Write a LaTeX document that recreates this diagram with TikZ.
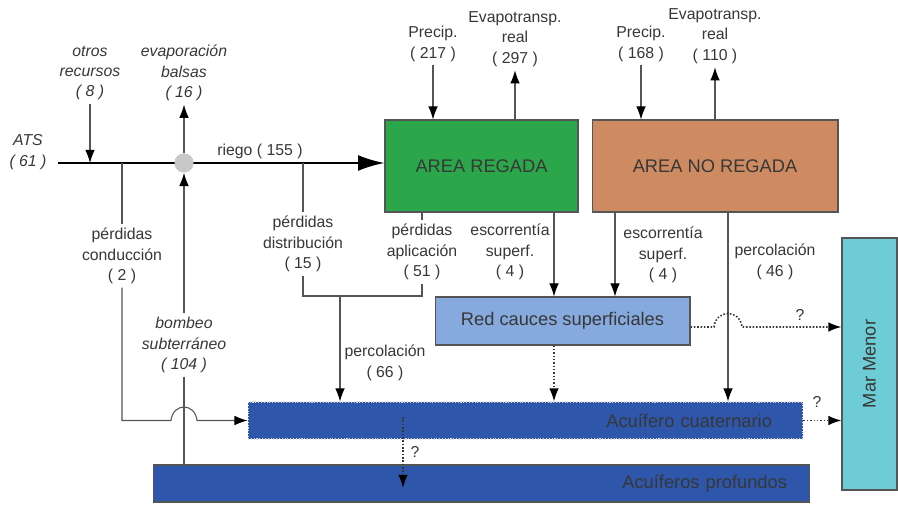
\documentclass[tikz,border=0pt]{standalone}
\usepackage{fontspec}
\setmainfont{Liberation Sans}
\usepackage{tikz}
\usetikzlibrary{arrows.meta,positioning,calc}
\definecolor{MsGreen}{RGB}{44,166,74}
\definecolor{MsOrange}{RGB}{206,139,98}
\definecolor{MsCauces}{RGB}{134,170,222}
\definecolor{MsAquifer}{RGB}{46,86,170}
\definecolor{MsCyan}{RGB}{110,204,214}
\definecolor{MsCircle}{RGB}{200,200,200}
\definecolor{MsLine}{RGB}{85,85,85}
\definecolor{MsText}{RGB}{55,55,55}
\tikzset{
  ms/box/.style={
    draw=MsLine,
    line width=0.6pt,
    text=MsText,
    inner sep=0pt,
    font=\fontsize{10.4}{12}\selectfont
  },
  ms/label/.style={font=\fontsize{9}{11.6}\selectfont, text=MsText, align=center, inner sep=2pt},
  ms/italic/.style={ms/label, font=\fontsize{9}{11.6}\selectfont\itshape},
  ms/line/.style={draw=MsLine, line width=0.6pt},
  ms/arrow/.style={-{Latex[length=7.5pt,width=5.5pt,color=black]}, draw=MsLine, line width=0.6pt},
  ms/main/.style={-{Latex[length=15pt,width=9pt]}, draw=black, line width=1.2pt},
  ms/dotarrow/.style={-{Latex[length=7.5pt,width=5.5pt,color=black]}, draw=MsText, densely dotted, line width=0.9pt}
}
\begin{document}
\begin{tikzpicture}[x=0.02cm,y=-0.02cm]
  \useasboundingbox (0,0) rectangle (898,506);
  % boxes
  \node[ms/box,fill=MsGreen,minimum width=3.86cm,minimum height=1.84cm] (regada) at (481.5,166) {AREA REGADA};
  \node[ms/box,fill=MsOrange,minimum width=4.92cm,minimum height=1.84cm] (noregada) at (715,166) {AREA NO REGADA};
  \node[ms/box,fill=MsCauces,minimum width=5.1cm,minimum height=0.96cm] (red) at (562.5,321) {Red cauces superficiales};
  \node[ms/box,fill=MsAquifer,draw=white!70!gray,densely dotted,minimum height=0.74cm,
        inner xsep=0.62cm,text width=9.86cm,align=right] (cuat) at (525.5,420.5) {Acuífero cuaternario};
  \node[ms/box,fill=MsAquifer,minimum height=0.74cm,
        inner xsep=0.46cm,text width=12.22cm,align=right] (prof) at (481.5,483.5) {Acuíferos profundos};
  \node[ms/box,fill=MsCyan,rotate=90,minimum width=5.04cm,minimum height=1.1cm] (mar) at (869.5,364) {Mar Menor};
  \node[circle,fill=MsCircle,minimum size=0.38cm,inner sep=0pt] (balsa) at (184,163) {};

  % labels
  \node[ms/italic] (ats) at (28,152) {ATS\\( 61 )};
  \node[ms/italic] (otros) at (90,73) {otros\\recursos\\( 8 )};
  \node[ms/italic] (evap) at (184,73) {evaporación\\balsas\\( 16 )};
  \node[ms/label] (riego) at (260,151) {riego ( 155 )};
  \node[ms/label] (cond) at (122,256) {pérdidas\\conducción\\( 2 )};
  \node[ms/italic] (bombeo) at (184,345) {bombeo\\subterráneo\\( 104 )};
  \node[ms/label] (distr) at (303,244) {pérdidas\\distribución\\( 15 )};
  \node[ms/label] (apl) at (422,252) {pérdidas\\aplicación\\( 51 )};
  \node[ms/label] (perc1) at (385,363) {percolación\\( 66 )};
  \node[ms/label] (esc1) at (510,252) {escorrentía\\superf.\\( 4 )};
  \node[ms/label] (esc2) at (663,255) {escorrentía\\superf.\\( 4 )};
  \node[ms/label] (perc2) at (775,262) {percolación\\( 46 )};
  \node[ms/label] (prec1) at (433,44) {Precip.\\( 217 )};
  \node[ms/label] (evt1) at (515,39) {Evapotransp.\\real\\( 297 )};
  \node[ms/label] (prec2) at (641,44) {Precip.\\( 168 )};
  \node[ms/label] (evt2) at (715,36) {Evapotransp.\\real\\( 110 )};
  \node[ms/label] (q1) at (800,315) {?};
  \node[ms/label] (q2) at (817,402) {?};
  \node[ms/label] (q3) at (415,452) {?};

  % connectors
  \coordinate (src) at (58,163);
  \coordinate (junc) at (340,296);
  \coordinate (x1) at (554,0);
  \coordinate (x2) at (615,0);
  \coordinate (x3) at (728,0);
  \coordinate (r0) at ($(red.east)+(0,6)$);
  \coordinate (qtop) at (403,417);
  \coordinate (qbot) at (403,488);
  \draw[ms/main] (src) -- (src -| regada.west);
  \node[circle,fill=MsCircle,minimum size=0.38cm,inner sep=0pt] at (balsa) {};
  \draw[ms/arrow] (otros.south) -- (otros.south |- src);
  \draw[ms/arrow] (balsa) -- (evap.south);
  \draw[ms/arrow] (prec1.south) -- (prec1.south |- regada.north);
  \draw[ms/arrow] (evt1.south |- regada.north) -- (evt1.south);
  \draw[ms/arrow] (prec2.south) -- (prec2.south |- noregada.north);
  \draw[ms/arrow] (evt2.south |- noregada.north) -- (evt2.south);
  \draw[ms/line] (cond.north) -- (cond.north |- src);
  \draw[ms/arrow] (cond.south) -- (cond.south |- cuat.west) -- ++(49,0)
    .. controls +(2,-18) and +(-2,-18) .. ++(26,0) -- (cuat.west);
  \draw[ms/line] (bombeo.south) -- (bombeo.south |- prof.north);
  \draw[ms/arrow] (bombeo.north) -- (balsa);
  \draw[ms/line] (distr.north) -- (distr.north |- src);
  \draw[ms/line] (distr.south) |- (junc) -- (junc -| apl.south) -- (apl.south);
  \draw[ms/line] (apl.north) -- (apl.north |- regada.south);
  \draw[ms/arrow] (junc) -- (junc |- cuat.north);
  \draw[ms/arrow] (x1 |- regada.south) -- (x1 |- red.north);
  \draw[ms/arrow] (x2 |- noregada.south) -- (x2 |- red.north);
  \draw[ms/arrow] (x3 |- noregada.south) -- (x3 |- cuat.north);
  \draw[ms/dotarrow] (x1 |- red.south) -- (x1 |- cuat.north);
  \draw[ms/dotarrow] (r0) -- ($(x3 |- r0)+(-14,0)$)
    .. controls +(2,-18) and +(-2,-18) .. ++(28,0) -- (r0 -| mar.north);
  \draw[ms/dotarrow] (cuat.east) -- (cuat.east -| mar.north);
  \draw[ms/dotarrow] (qtop) -- (qbot);
\end{tikzpicture}
\end{document}
